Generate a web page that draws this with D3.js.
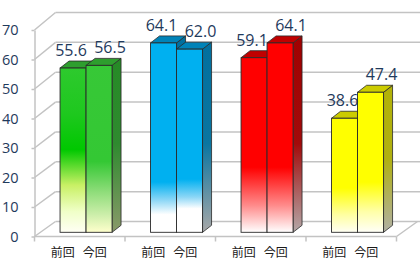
<!DOCTYPE html>
<html>
<head>
<meta charset="utf-8">
<script src="https://cdn.jsdelivr.net/npm/d3@7"></script>
<style>
  html, body { margin: 0; padding: 0; background: #fff; }
  svg { display: block; }
</style>
</head>
<body>
<div id="app"></div>
<script>
const categories = ["g1", "g2", "g3", "g4"];
const seriesNames = ["前回", "今回"];
const prevValues = [55.6, 64.1, 59.1, 38.6];
const currValues = [56.5, 62.0, 64.1, 47.4];
const yTicks = [0, 10, 20, 30, 40, 50, 60, 70];

const width = 420, height = 269;

// color themes for each category (front gradient stops by value, side, top)
const themes = [
  {
    front: [
      [[70, "#3ccb3c"], [40, "#1ec81e"], [28, "#00c800"], [16, "#c8f064"], [7, "#f0ffc8"], [0, "#fffff4"]],
      [[70, "#38c838"], [24, "#34c834"], [14, "#8cdc78"], [6, "#cceeaa"], [0, "#ffffcc"]]
    ],
    side: [[70, "#228b22"], [30, "#2f8a2f"], [0, "#8a9a6a"]],
    top: "#2e9e2e"
  },
  {
    front: [
      [[70, "#00b0f0"], [17, "#00b0f0"], [11, "#8ad6f6"], [6, "#ffffff"], [0, "#ffffff"]],
      [[70, "#00b0f0"], [18, "#00b0f0"], [12, "#8ad6f6"], [8, "#ffffff"], [0, "#ffffff"]]
    ],
    side: [[70, "#006f9e"], [30, "#0a75a0"], [0, "#a8a8a8"]],
    top: "#0083b8"
  },
  {
    front: [
      [[70, "#ff0000"], [22, "#ff0000"], [9, "#ff8c8c"], [0, "#ffffff"]],
      [[70, "#ff0000"], [22, "#ff0000"], [9, "#ff8c8c"], [0, "#ffffff"]]
    ],
    side: [[70, "#a00000"], [30, "#a20a0a"], [0, "#b4a8a8"]],
    top: "#c00000"
  },
  {
    front: [
      [[70, "#ffff00"], [15, "#ffff00"], [6, "#ffffa0"], [0, "#fffff4"]],
      [[70, "#ffff00"], [17, "#ffff00"], [7, "#ffffa8"], [0, "#fffff8"]]
    ],
    side: [[70, "#b4b400"], [25, "#b0b010"], [0, "#b0b0a4"]],
    top: "#cccc00"
  }
];

const svg = d3.select("#app").append("svg")
  .attr("width", width)
  .attr("height", height);

const x = d3.scaleBand().domain(categories).range([34.5, 396.5]);
const yFront = d3.scaleLinear().domain([0, 70]).range([236.5, 30]);
const yBack = d3.scaleLinear().domain([0, 70]).range([221.5, 12.5]);
const yBar = d3.scaleLinear().domain([0, 70]).range([232.3, 25.5]);
const backDx = 21;
const barShift = 6.3;
const barW = 26;
const depthX = 9, depthY = -7;

const gridColor = "#c3c3c3";
const textColor = "#1f3a5c";

// walls / gridlines
const grid = svg.append("g");
grid.selectAll("line.diag")
  .data(yTicks)
  .enter()
  .append("line")
  .attr("x1", x.range()[0])
  .attr("y1", (d) => yFront(d))
  .attr("x2", x.range()[0] + backDx)
  .attr("y2", (d) => yBack(d))
  .attr("stroke", gridColor)
  .attr("stroke-width", 1.5);

grid.selectAll("line.back")
  .data(yTicks)
  .enter()
  .append("line")
  .attr("x1", x.range()[0] + backDx)
  .attr("y1", (d) => yBack(d))
  .attr("x2", width)
  .attr("y2", (d) => yBack(d))
  .attr("stroke", gridColor)
  .attr("stroke-width", 1.5);

// floor front edge and right edge
const x0 = x.range()[0], x1 = x.range()[1];
grid.append("line")
  .attr("x1", x0).attr("y1", yFront(0))
  .attr("x2", x1).attr("y2", yFront(0))
  .attr("stroke", gridColor).attr("stroke-width", 1.5);
grid.append("line")
  .attr("x1", x1).attr("y1", yFront(0))
  .attr("x2", x1 + backDx).attr("y2", yBack(0))
  .attr("stroke", gridColor).attr("stroke-width", 1.5);

// x ticks on band boundaries
grid.selectAll("line.xtick")
  .data(categories.map((c) => x(c)).concat([x1]))
  .enter()
  .append("line")
  .attr("x1", (d) => d).attr("x2", (d) => d)
  .attr("y1", yFront(0)).attr("y2", yFront(0) + 5)
  .attr("stroke", gridColor).attr("stroke-width", 1.5);

// y axis
const yAxis = d3.axisLeft(yFront)
  .tickValues(yTicks)
  .tickSize(3)
  .tickSizeOuter(0)
  .tickPadding(13);

const yAxisG = svg.append("g")
  .attr("transform", `translate(${x0},0)`)
  .call(yAxis);
yAxisG.select(".domain").attr("stroke", gridColor).attr("stroke-width", 1.5);
yAxisG.selectAll(".tick line").attr("stroke", gridColor).attr("stroke-width", 1.5);
yAxisG.selectAll(".tick text")
  .attr("fill", textColor)
  .style("font-family", "'Open Sans', sans-serif")
  .style("font-size", "14.5px");

// gradients
const defs = svg.append("defs");
function addGradient(id, stops) {
  const g = defs.append("linearGradient")
    .attr("id", id)
    .attr("gradientUnits", "userSpaceOnUse")
    .attr("x1", 0).attr("x2", 0)
    .attr("y1", yBar(70)).attr("y2", yBar(0));
  const span = yBar(0) - yBar(70);
  stops.forEach(([v, c]) => {
    g.append("stop")
      .attr("offset", (yBar(v) - yBar(70)) / span)
      .attr("stop-color", c);
  });
}

themes.forEach((t, ci) => {
  addGradient(`front-${ci}-0`, t.front[0]);
  addGradient(`front-${ci}-1`, t.front[1]);
  addGradient(`side-${ci}`, t.side);
});

// bars
const barData = [];
categories.forEach((c, ci) => {
  [prevValues[ci], currValues[ci]].forEach((v, si) => {
    barData.push({ cat: c, ci: ci, si: si, value: v });
  });
});

const barX = (d) => x(d.cat) + x.bandwidth() / 2 - barW + d.si * barW + barShift;

const bars = svg.append("g")
  .selectAll("g")
  .data(barData)
  .enter()
  .append("g");

bars.append("path")
  .attr("d", (d) => {
    const bx = barX(d) + barW, yt = yBar(d.value), yb = yBar(0);
    return `M${bx},${yt}L${bx + depthX},${yt + depthY}L${bx + depthX},${yb + depthY}L${bx},${yb}Z`;
  })
  .attr("fill", (d) => `url(#side-${d.ci})`)
  .attr("stroke", "#2a2a2a")
  .attr("stroke-width", 0.8)
  .attr("stroke-linejoin", "round");

bars.append("path")
  .attr("d", (d) => {
    const bx = barX(d), yt = yBar(d.value);
    return `M${bx},${yt}L${bx + barW},${yt}L${bx + barW + depthX},${yt + depthY}L${bx + depthX},${yt + depthY}Z`;
  })
  .attr("fill", (d) => themes[d.ci].top)
  .attr("stroke", "#2a2a2a")
  .attr("stroke-width", 0.8)
  .attr("stroke-linejoin", "round");

bars.append("rect")
  .attr("x", (d) => barX(d))
  .attr("y", (d) => yBar(d.value))
  .attr("width", barW)
  .attr("height", (d) => yBar(0) - yBar(d.value))
  .attr("fill", (d) => `url(#front-${d.ci}-${d.si})`)
  .attr("stroke", "#2a2a2a")
  .attr("stroke-width", 0.9);

// value labels
svg.append("g")
  .selectAll("text")
  .data(barData)
  .enter()
  .append("text")
  .attr("x", (d) => barX(d) + barW / 2 + (d.si === 0 ? -2 : 11))
  .attr("y", (d) => yBar(d.value) - 12)
  .attr("text-anchor", "middle")
  .attr("fill", textColor)
  .style("font-family", "'Open Sans', sans-serif")
  .style("font-size", "16px")
  .text((d) => d.value.toFixed(1));

// category labels
svg.append("g")
  .selectAll("text")
  .data(barData)
  .enter()
  .append("text")
  .attr("x", (d) => x(d.cat) + x.bandwidth() / 2 + (d.si === 0 ? -17 : 15))
  .attr("y", 256.5)
  .attr("text-anchor", "middle")
  .attr("fill", "#1a1a1a")
  .style("font-family", "'Noto Sans CJK JP', sans-serif")
  .style("font-size", "12px")
  .text((d) => seriesNames[d.si]);
</script>
</body>
</html>
